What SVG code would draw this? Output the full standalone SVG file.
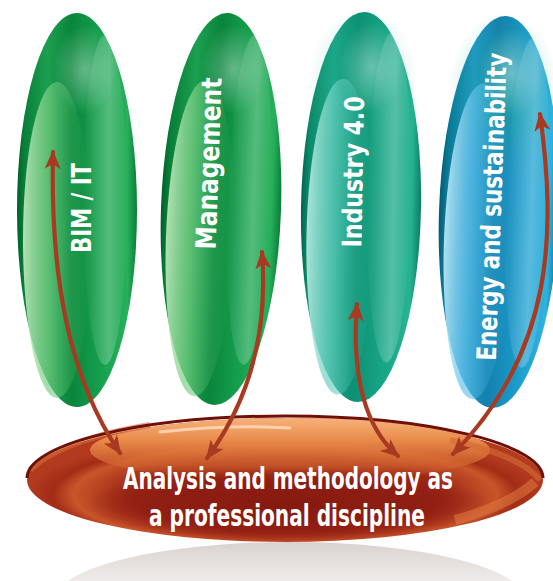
<svg xmlns="http://www.w3.org/2000/svg" width="553" height="581" viewBox="0 0 553 581">
<style>
.lbl{font-family:"Liberation Sans Narrow","DejaVu Sans Condensed","Liberation Sans",sans-serif;font-weight:bold;fill:#ffffff;text-anchor:middle}
.arrow{fill:none;stroke:#a83a22;stroke-width:4.2;stroke-linecap:round;marker-start:url(#ah);marker-end:url(#ah)}
</style>
<defs>
<marker id="ah" markerUnits="userSpaceOnUse" markerWidth="22" markerHeight="18" refX="17" refY="8" orient="auto-start-reverse" viewBox="0 0 22 16">
<path d="M0,0 L19,8 L0,16 L5,8 Z" fill="#a83a22"/>
</marker>
<linearGradient id="gGreen" x1="0" y1="0" x2="1" y2="0">
<stop offset="0" stop-color="#045f29"/><stop offset="0.06" stop-color="#08803a"/><stop offset="0.25" stop-color="#1c9f50"/><stop offset="0.45" stop-color="#0a853c"/><stop offset="0.7" stop-color="#16a04e"/><stop offset="0.92" stop-color="#27b05b"/><stop offset="1" stop-color="#0a7d37"/>
</linearGradient>
<linearGradient id="gGreenHi" x1="0" y1="0" x2="1" y2="0">
<stop offset="0" stop-color="#c4ecc0" stop-opacity="0.9"/><stop offset="0.35" stop-color="#7ccf86" stop-opacity="0.7"/><stop offset="1" stop-color="#2fae5a" stop-opacity="0"/>
</linearGradient>
<linearGradient id="gTeal" x1="0" y1="0" x2="1" y2="0">
<stop offset="0" stop-color="#05634f"/><stop offset="0.06" stop-color="#0b8a6a"/><stop offset="0.25" stop-color="#1ca688"/><stop offset="0.45" stop-color="#0c8f72"/><stop offset="0.7" stop-color="#18a585"/><stop offset="0.92" stop-color="#26b392"/><stop offset="1" stop-color="#0a7e62"/>
</linearGradient>
<linearGradient id="gTealHi" x1="0" y1="0" x2="1" y2="0">
<stop offset="0" stop-color="#bdeee6" stop-opacity="0.9"/><stop offset="0.35" stop-color="#6cd0c2" stop-opacity="0.7"/><stop offset="1" stop-color="#2ab39b" stop-opacity="0"/>
</linearGradient>
<linearGradient id="gBlue" x1="0" y1="0" x2="1" y2="0">
<stop offset="0" stop-color="#065a74"/><stop offset="0.06" stop-color="#0a7a96"/><stop offset="0.25" stop-color="#2096c8"/><stop offset="0.45" stop-color="#1480ad"/><stop offset="0.7" stop-color="#1c9ccc"/><stop offset="0.92" stop-color="#2eb2de"/><stop offset="1" stop-color="#0a7391"/>
</linearGradient>
<linearGradient id="gBlueHi" x1="0" y1="0" x2="1" y2="0">
<stop offset="0" stop-color="#c2ecfa" stop-opacity="0.9"/><stop offset="0.35" stop-color="#64c2ea" stop-opacity="0.7"/><stop offset="1" stop-color="#2aa6d6" stop-opacity="0"/>
</linearGradient>
<linearGradient id="gSheen" x1="0" y1="0" x2="1" y2="0">
<stop offset="0" stop-color="#ffffff" stop-opacity="0"/><stop offset="0.6" stop-color="#ffffff" stop-opacity="0.25"/><stop offset="1" stop-color="#ffffff" stop-opacity="0"/>
</linearGradient>
<radialGradient id="gTop" cx="0.5" cy="0.5" r="0.5">
<stop offset="0" stop-color="#ffffff" stop-opacity="0.35"/><stop offset="1" stop-color="#ffffff" stop-opacity="0"/>
</radialGradient>
<radialGradient id="gTealTop" cx="0.5" cy="0.5" r="0.5">
<stop offset="0" stop-color="#1fb08c" stop-opacity="0.8"/><stop offset="1" stop-color="#1fb08c" stop-opacity="0"/>
</radialGradient>
<radialGradient id="gRed" cx="0.5" cy="0.62" r="0.5">
<stop offset="0" stop-color="#8e1d12"/><stop offset="0.6" stop-color="#9c2616"/><stop offset="0.82" stop-color="#c9552a"/><stop offset="0.9" stop-color="#a32c17"/><stop offset="1" stop-color="#b23a1e"/>
</radialGradient>
<linearGradient id="gOrange" x1="0" y1="0" x2="0" y2="1">
<stop offset="0" stop-color="#f6b27a"/><stop offset="0.35" stop-color="#e98a4a"/><stop offset="0.75" stop-color="#d2642e" stop-opacity="0.7"/><stop offset="1" stop-color="#b84020" stop-opacity="0"/>
</linearGradient>
<radialGradient id="gDarkRed" cx="0.5" cy="0.5" r="0.5">
<stop offset="0" stop-color="#861a10"/><stop offset="0.7" stop-color="#8e1d12" stop-opacity="0.8"/><stop offset="1" stop-color="#8e1d12" stop-opacity="0"/>
</radialGradient>
<linearGradient id="gShadow" x1="0" y1="0" x2="0" y2="1">
<stop offset="0" stop-color="#c8bdba" stop-opacity="0.7"/><stop offset="0.45" stop-color="#e6e0de" stop-opacity="0.45"/><stop offset="1" stop-color="#ffffff" stop-opacity="0"/>
</linearGradient>
</defs>
<rect width="553" height="581" fill="#ffffff"/>

<g id="node-bim" transform="translate(77,210)">
<ellipse rx="60" ry="197" fill="url(#gGreen)"/>
<ellipse cx="-20" cy="30" rx="34" ry="158" fill="url(#gGreenHi)"/>
<ellipse cx="28" cy="-10" rx="22" ry="165" fill="url(#gSheen)"/>
<ellipse cx="8" cy="-140" rx="32" ry="45" fill="url(#gTop)"/>
<text class="lbl" font-size="27" textLength="90" lengthAdjust="spacingAndGlyphs" transform="translate(14,-2) rotate(-90)">BIM / IT</text>
</g>

<g id="node-management" transform="translate(221,209) rotate(2)">
<ellipse rx="60" ry="196" fill="url(#gGreen)"/>
<ellipse cx="-20" cy="30" rx="34" ry="158" fill="url(#gGreenHi)"/>
<ellipse cx="28" cy="-10" rx="22" ry="165" fill="url(#gSheen)"/>
<ellipse cx="8" cy="-140" rx="32" ry="45" fill="url(#gTop)"/>
<text class="lbl" font-size="28" textLength="172" lengthAdjust="spacingAndGlyphs" transform="translate(-4,-45) rotate(-90)">Management</text>
</g>

<g id="node-industry" transform="translate(361,207) rotate(1)">
<ellipse rx="60" ry="195" fill="url(#gTeal)"/>
<ellipse cx="0" cy="-120" rx="55" ry="80" fill="url(#gTealTop)" opacity="0.5"/>
<ellipse cx="-20" cy="30" rx="34" ry="158" fill="url(#gTealHi)"/>
<ellipse cx="28" cy="-10" rx="22" ry="165" fill="url(#gSheen)"/>
<ellipse cx="8" cy="-140" rx="32" ry="45" fill="url(#gTop)"/>
<text class="lbl" font-size="27" textLength="151" lengthAdjust="spacingAndGlyphs" transform="translate(1,-35) rotate(-90)">Industry 4.0</text>
</g>

<g id="node-energy" transform="translate(499,212) rotate(2)">
<ellipse rx="60" ry="196" fill="url(#gBlue)"/>
<ellipse cx="0" cy="-120" rx="55" ry="80" fill="url(#gTealTop)" opacity="0.6"/>
<ellipse cx="-20" cy="30" rx="34" ry="158" fill="url(#gBlueHi)"/>
<ellipse cx="28" cy="-10" rx="22" ry="165" fill="url(#gSheen)"/>
<ellipse cx="8" cy="-140" rx="32" ry="45" fill="url(#gTop)"/>
<text class="lbl" font-size="27" textLength="308" lengthAdjust="spacingAndGlyphs" transform="translate(2,-5) rotate(-90)">Energy and sustainability</text>
</g>

<g id="node-analysis">
<ellipse cx="290" cy="600" rx="235" ry="58" fill="url(#gShadow)"/>
<ellipse cx="285" cy="480" rx="258" ry="62" fill="url(#gRed)"/>
<ellipse cx="290" cy="450" rx="200" ry="32" fill="url(#gOrange)"/>
<ellipse cx="288" cy="505" rx="205" ry="36" fill="url(#gDarkRed)"/>
<path d="M30,470 Q60,440 150,425" fill="none" stroke="#d66a35" stroke-width="6" opacity="0.6"/>
<path d="M540,480 Q520,455 450,440" fill="none" stroke="#d66a35" stroke-width="6" opacity="0.6"/>
<path d="M455,520 Q510,505 535,482" fill="none" stroke="#e07a40" stroke-width="10" opacity="0.55"/>
<path d="M27,478 A258,62 0 0 1 543,478" fill="none" stroke="#6e1008" stroke-width="3"/>
<path d="M160,432 Q230,424 290,428" fill="none" stroke="#ffe6cf" stroke-width="3" stroke-linecap="round" opacity="0.7"/>
<text class="lbl" x="288" y="489" font-size="30" textLength="330" lengthAdjust="spacingAndGlyphs">Analysis and methodology as</text>
<text class="lbl" x="287" y="526" font-size="30" textLength="276" lengthAdjust="spacingAndGlyphs">a professional discipline</text>
</g>

<g id="connectors">
<path class="arrow" d="M53,152 C50,280 70,380 120,453"/>
<path class="arrow" d="M262,252 C268,330 250,400 207,458"/>
<path class="arrow" d="M357,304 C352,370 362,425 398,456"/>
<path class="arrow" d="M540,114 C556,230 555,350 453,454"/>
</g>
</svg>
